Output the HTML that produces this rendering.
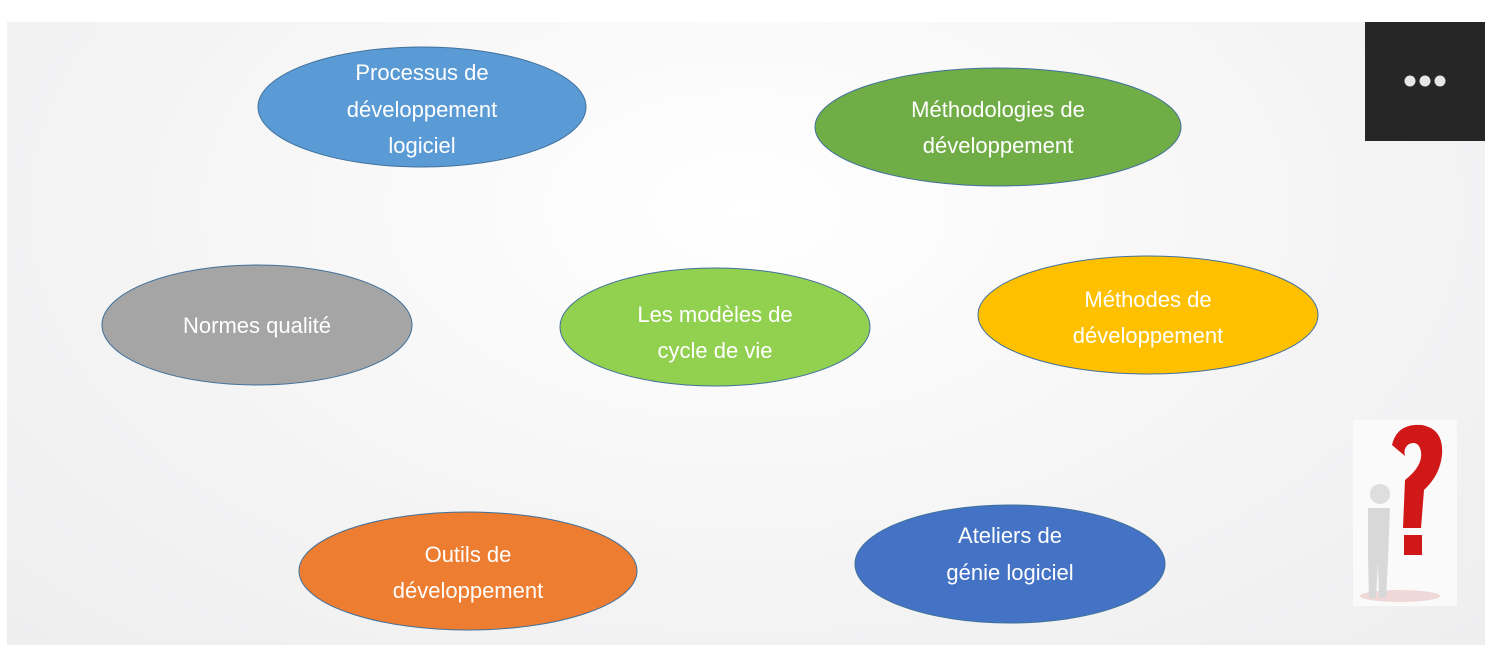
<!DOCTYPE html>
<html><head><meta charset="utf-8"><style>
body{margin:0;width:1489px;height:651px;background:#fff;overflow:hidden;position:relative;font-family:"Liberation Sans",sans-serif}
.slide{position:absolute;left:7px;top:22px;width:1478px;height:623px;background:radial-gradient(ellipse at 50% 30%,#ffffff 0%,#f4f4f5 60%,#eeeeef 100%)}
.box{position:absolute;left:1365px;top:22px;width:120px;height:119px;background:#262626}
</style></head><body>
<div class="slide"></div>
<div class="box"><svg width="120" height="119"><circle cx="45" cy="59" r="5.5" fill="#e6e6e6"/><circle cx="60" cy="59" r="5.5" fill="#e6e6e6"/><circle cx="75" cy="59" r="5.5" fill="#e6e6e6"/></svg></div>
<svg width="1489" height="651" style="position:absolute;left:0;top:0" font-family="Liberation Sans, sans-serif" font-size="22" fill="#fff" text-anchor="middle">
<g stroke="#41719c" stroke-width="1">
<ellipse cx="422" cy="107" rx="164" ry="60" fill="#5b9bd5"/>
<ellipse cx="998" cy="127" rx="183" ry="59" fill="#70ad47"/>
<ellipse cx="257" cy="325" rx="155" ry="60" fill="#a5a5a5"/>
<ellipse cx="715" cy="327" rx="155" ry="59" fill="#92d050"/>
<ellipse cx="1148" cy="315" rx="170" ry="59" fill="#ffc000"/>
<ellipse cx="468" cy="571" rx="169" ry="59" fill="#ed7d31"/>
<ellipse cx="1010" cy="564" rx="155" ry="59" fill="#4472c4"/>
</g>
<text x="422" y="80">Processus de</text><text x="422" y="117">développement</text><text x="422" y="153">logiciel</text>
<text x="998" y="117">Méthodologies de</text><text x="998" y="153">développement</text>
<text x="257" y="333">Normes qualité</text>
<text x="715" y="322">Les modèles de</text><text x="715" y="358">cycle de vie</text>
<text x="1148" y="307">Méthodes de</text><text x="1148" y="343">développement</text>
<text x="468" y="562">Outils de</text><text x="468" y="598">développement</text>
<text x="1010" y="543">Ateliers de</text><text x="1010" y="580">génie logiciel</text>
<g>
<rect x="1353" y="420" width="104" height="186" fill="#fafafa"/>
<ellipse cx="1400" cy="596" rx="40" ry="6" fill="#f0d8d8"/>
<path d="M1392 445 q5 -22 30 -20 q22 4 20 30 q-2 20 -18 35 l-3 38 h-18 l2 -48 q18 -14 16 -28 q-2 -12 -12 -8 q-6 4 -4 12 z" fill="#d01818"/>
<rect x="1404" y="535" width="18" height="20" fill="#d01818"/>
<circle cx="1380" cy="494" r="10" fill="#dedede"/>
<path d="M1368 508 h22 l-2 52 l-2 38 h-7 l-1 -35 l-2 35 h-7 l-1 -40 z" fill="#d8d8d8"/>
</g>
</svg>
</body></html>
